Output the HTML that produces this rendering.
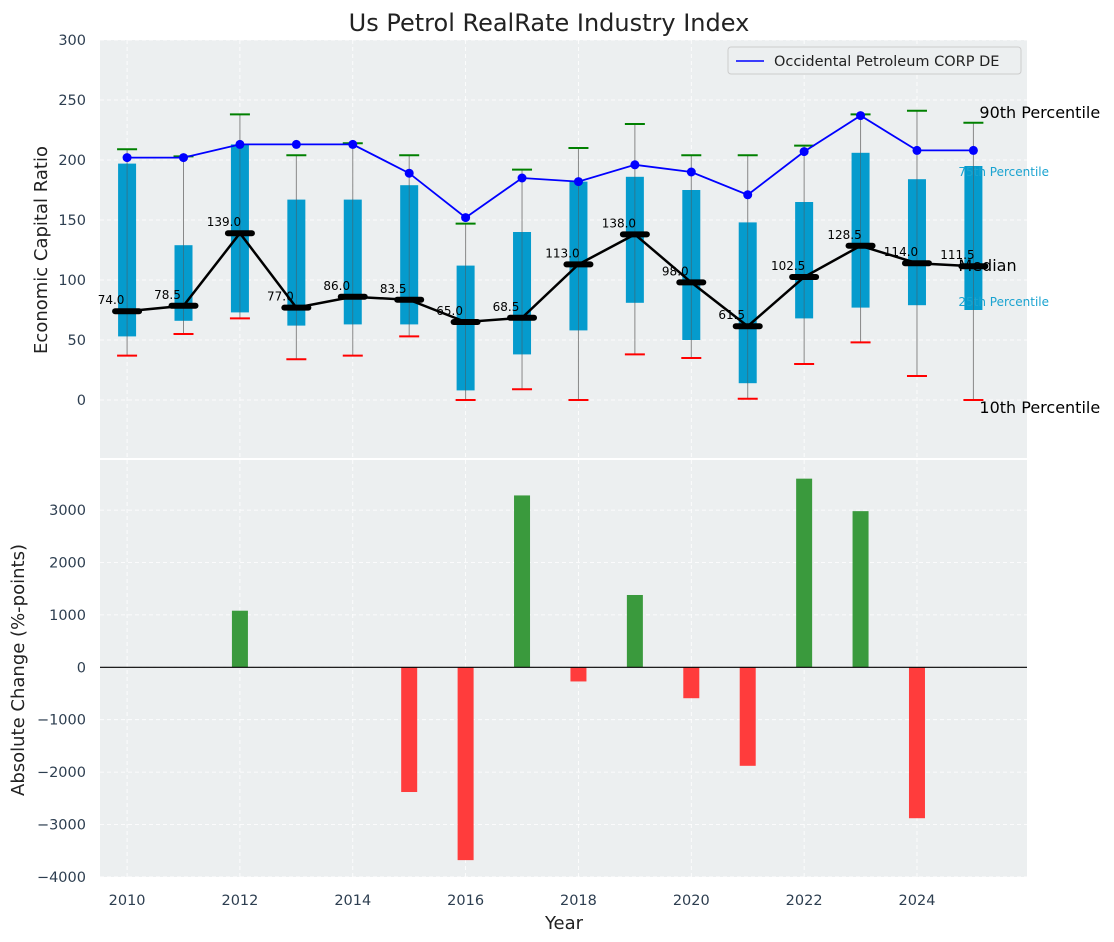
<!DOCTYPE html>
<html><head><meta charset="utf-8"><style>
body{margin:0;background:#fff;}
svg{display:block;font-family:"DejaVu Sans","Liberation Sans",sans-serif;}
</style></head><body>
<svg id="c" width="1114" height="942" xmlns="http://www.w3.org/2000/svg"></svg>
<script>
const years=[2010,2011,2012,2013,2014,2015,2016,2017,2018,2019,2020,2021,2022,2023,2024,2025];
const company=[202,202,213,213,213,189,152,185,182,196,190,171,207,237,208,208];
const p90=[209,203,238,204,214,204,147,192,210,230,204,204,212,238,241,231];
const p75=[197,129,213,167,167,179,112,140,182,186,175,148,165,206,184,195];
const median=[74.0,78.5,139.0,77.0,86.0,83.5,65.0,68.5,113.0,138.0,98.0,61.5,102.5,128.5,114.0,111.5];
const p25=[53,66,73,62,63,63,8,38,58,81,50,14,68,77,79,75];
const p10=[37,55,68,34,37,53,0,9,0,38,35,1,30,48,20,0];
const changes=[0,0,1080,0,0,-2380,-3680,3280,-270,1380,-590,-1880,3600,2980,-2880,0];
const topTicks=[0,50,100,150,200,250,300];
const botTicks=[-4000,-3000,-2000,-1000,0,1000,2000,3000];
const xTicks=[2010,2012,2014,2016,2018,2020,2022,2024];

const svg=document.getElementById('c');
const NS='http://www.w3.org/2000/svg';
function mk(tag,attrs,parent,text){const e=document.createElementNS(NS,tag);for(const k in attrs)e.setAttribute(k,attrs[k]);if(text!==undefined)e.textContent=text;(parent||svg).appendChild(e);return e;}
const L=100,R=1027;
const X=v=>L+(v-2009.52)*(R-L)/(2025.95-2009.52);
const T0=40,T1=458;const YT=v=>400-v*1.2;
const B0=460,B1=877;const YB=v=>667.3-v*0.0524;

let e;
e=mk('rect',{x:L,y:T0,width:R-L,height:T1-T0,fill:'#eceff0'});

e=mk('rect',{x:L,y:B0,width:R-L,height:B1-B0,fill:'#eceff0'});


xTicks.forEach(t=>{
  mk('line',{x1:X(t),x2:X(t),y1:T0,y2:T1,stroke:'#fff','stroke-dasharray':'4,3','stroke-width':0.8});
  mk('line',{x1:X(t),x2:X(t),y1:B0,y2:B1,stroke:'#fff','stroke-dasharray':'4,3','stroke-width':0.8});
});
topTicks.forEach(t=>{
  mk('line',{x1:L,x2:R,y1:YT(t),y2:YT(t),stroke:'#fff','stroke-dasharray':'4,3','stroke-width':0.8});
  e=mk('text',{x:L-14,y:YT(t)+5,'text-anchor':'end','font-size':14.5,fill:'#2d3e50'},null,t);
  
});
botTicks.forEach(t=>{
  mk('line',{x1:L,x2:R,y1:YB(t),y2:YB(t),stroke:'#fff','stroke-dasharray':'4,3','stroke-width':0.8});
  e=mk('text',{x:L-14,y:YB(t)+5,'text-anchor':'end','font-size':14.5,fill:'#2d3e50'},null,(t<0?'\u2212'+(-t):t));
  
});
xTicks.forEach(t=>{
  e=mk('text',{x:X(t),y:905,'text-anchor':'middle','font-size':14.5,fill:'#2d3e50'},null,t);
  
});

years.forEach((y,i)=>{
  const x=X(y);
  e=mk('line',{x1:x,x2:x,y1:YT(p90[i]),y2:YT(p10[i]),stroke:'#888','stroke-width':1});
  
  e=mk('rect',{x:x-9,y:YT(p75[i]),width:18,height:YT(p25[i])-YT(p75[i]),fill:'#0099cc',opacity:0.98});
  
  mk('line',{x1:x,x2:x,y1:YT(p75[i]),y2:YT(p25[i]),stroke:'#555','stroke-width':0.8,opacity:0.6});
  e=mk('line',{x1:x-10,x2:x+10,y1:YT(p90[i]),y2:YT(p90[i]),stroke:'green','stroke-width':2});
  
  e=mk('line',{x1:x-10,x2:x+10,y1:YT(p10[i]),y2:YT(p10[i]),stroke:'red','stroke-width':2});
  
});
e=mk('polyline',{points:years.map((y,i)=>X(y)+','+YT(median[i])).join(' '),fill:'none',stroke:'#000','stroke-width':2.5});

years.forEach((y,i)=>{
  const x=X(y);
  e=mk('line',{x1:x-12,x2:x+12,y1:YT(median[i]),y2:YT(median[i]),stroke:'#000','stroke-width':6,'stroke-linecap':'round'});
  
  e=mk('text',{x:x-16,y:YT(median[i])-7,'text-anchor':'middle','font-size':12,fill:'#000'},null,median[i].toFixed(1));
  
});
e=mk('polyline',{points:years.map((y,i)=>X(y)+','+YT(company[i])).join(' '),fill:'none',stroke:'#0000ff','stroke-width':1.8});

years.forEach((y,i)=>{
  e=mk('circle',{cx:X(y),cy:YT(company[i]),r:4.5,fill:'#0000ff'});
  
});
const last=years.length-1, xl=X(years[last]);
e=mk('text',{x:xl+6,y:YT(p90[last])-5,'font-size':16,fill:'#000'},null,'90th Percentile');

e=mk('text',{x:xl-15,y:YT(p75[last])+10,'font-size':12,fill:'#1aa3d0'},null,'75th Percentile');

e=mk('text',{x:xl-15,y:YT(median[last])+5,'font-size':16,fill:'#000'},null,'Median');

e=mk('text',{x:xl-15,y:YT(p25[last])-4,'font-size':12,fill:'#1aa3d0'},null,'25th Percentile');

e=mk('text',{x:xl+6,y:YT(p10[last])+13,'font-size':16,fill:'#000'},null,'10th Percentile');


const lg=mk('g',{});

mk('rect',{x:728,y:47,width:293,height:27,rx:3,fill:'#eceff0',stroke:'#ccc','stroke-width':1},lg);
mk('line',{x1:736,x2:764,y1:61,y2:61,stroke:'#0000ff','stroke-width':1.6},lg);
mk('text',{x:774,y:66,'font-size':14.5,fill:'#222'},lg,'Occidental Petroleum CORP DE');

years.forEach((y,i)=>{
  const v=changes[i]; if(v===0)return;
  const y1=Math.min(YB(v),YB(0)),h=Math.abs(YB(v)-YB(0));
  e=mk('rect',{x:X(y)-8,y:y1,width:16,height:h,fill:v>0?'#3a9a3d':'#ff3c3c'});
  
});
mk('line',{x1:L,x2:R,y1:YB(0),y2:YB(0),stroke:'#000','stroke-width':1.2});

e=mk('text',{x:549,y:31,'text-anchor':'middle','font-size':24,fill:'#222'},null,'Us Petrol RealRate Industry Index');

e=mk('text',{x:47,y:250,'text-anchor':'middle','font-size':18,fill:'#222',transform:'rotate(-90 47 250)'},null,'Economic Capital Ratio');

e=mk('text',{x:24,y:670,'text-anchor':'middle','font-size':18,fill:'#222',transform:'rotate(-90 24 670)'},null,'Absolute Change (%-points)');

e=mk('text',{x:564,y:929,'text-anchor':'middle','font-size':18,fill:'#222'},null,'Year');

</script>
</body></html>
